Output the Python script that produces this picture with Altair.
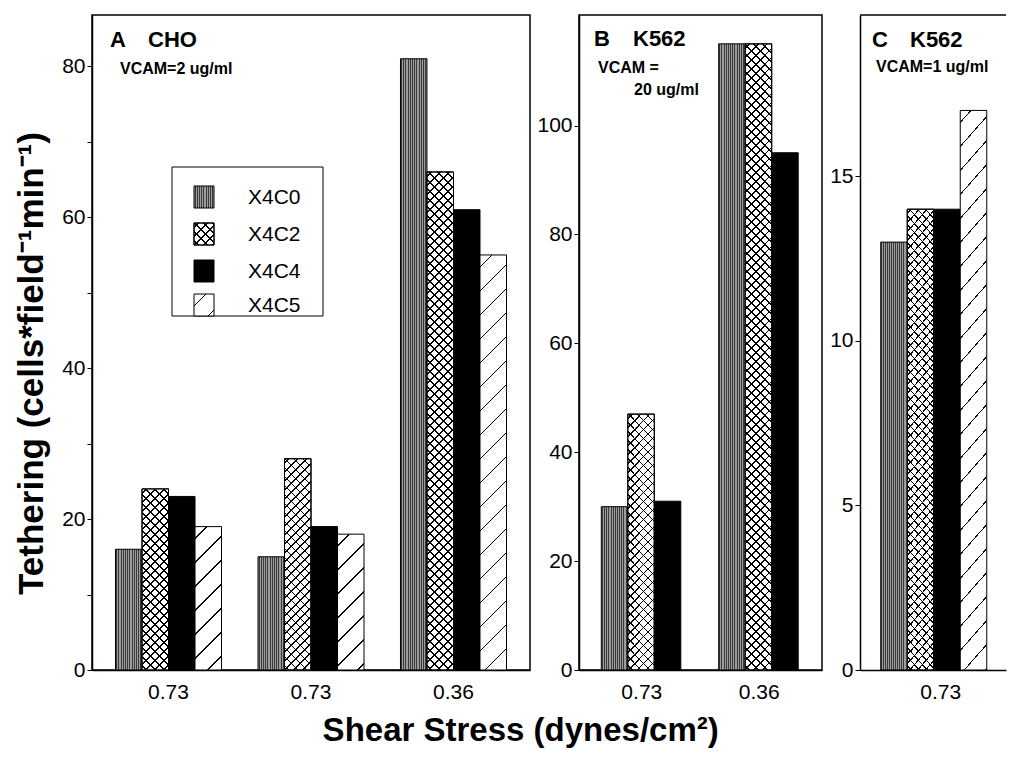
import math
import altair as alt
import pandas as pd

# ---------------- data ----------------
series = ["X4C0", "X4C2", "X4C4", "X4C5"]

a_labels = ["0.73", "0.73", "0.36"]
a_x4c0 = [16, 15, 81]
a_x4c2 = [24, 28, 66]
a_x4c4 = [23, 19, 61]
a_x4c5 = [19, 18, 55]

b_labels = ["0.73", "0.36"]
b_x4c0 = [30, 115]
b_x4c2 = [47, 115]
b_x4c4 = [31, 95]

c_labels = ["0.73"]
c_x4c0 = [13]
c_x4c2 = [14]
c_x4c4 = [14]
c_x4c5 = [17]

a_ticks = [0, 10, 20, 30, 40, 50, 60, 70, 80]
b_ticks = [0, 20, 40, 60, 80, 100]
c_ticks = [0, 5, 10, 15]

panel_letters = ["A", "B", "C"]
cell_lines = ["CHO", "K562", "K562"]
vcam_a = ["VCAM=2 ug/ml"]
vcam_b = ["VCAM =", "20 ug/ml"]
vcam_c = ["VCAM=1 ug/ml"]

y_title = "Tethering (cells*field\u207b\u00b9min\u207b\u00b9)"
x_title = "Shear Stress (dynes/cm\u00b2)"

FONT = "Liberation Sans"
WHITE = "#ffffff"
CLEAR = "rgba(255,255,255,0)"
TICK_FS = 21


# ---------------- hatch fills (gradients) ----------------
def make_stops(total, spacing, lw, line, bg, phase=0.5):
    pts = [(0.0, bg)]
    k = 0
    while True:
        c = (k + phase) * spacing
        a, b = c - lw / 2, c + lw / 2
        if a >= total:
            break
        a = max(a, 0.0)
        b = min(b, total)
        pts += [(a / total, bg), (a / total, line), (b / total, line), (b / total, bg)]
        k += 1
    pts.append((1.0, bg))
    return [alt.GradientStop(color=col, offset=round(o, 5)) for o, col in pts]


def vstripes(w):
    return alt.LinearGradient(gradient="linear", x1=0, y1=0, x2=1, y2=0,
                              stops=make_stops(w, 2.2, 1.0, "#3a3a3a", "#9c9c9c"))


def diag(w, h, spacing, lw, line, bg, up=True, phase=0.5):
    s = (w + h) / (w * w + h * h)
    stops = make_stops(w + h, spacing, lw * math.sqrt(2), line, bg, phase)
    if up:
        return alt.LinearGradient(gradient="linear", x1=0, y1=0, x2=s * w, y2=s * h, stops=stops)
    return alt.LinearGradient(gradient="linear", x1=0, y1=1, x2=s * w, y2=1 - s * h, stops=stops)


def fills_for(name, w, h):
    if name == "X4C0":
        return [vstripes(w)]
    if name == "X4C2":
        return [diag(w, h, 9.0, 1.15, "black", WHITE, True),
                diag(w, h, 9.0, 1.15, "black", CLEAR, False)]
    if name == "X4C4":
        return ["black"]
    return [diag(w, h, 24, 1.0, "black", WHITE, True)]


def one_row():
    return pd.DataFrame({"k": [0]})


def text_layer(txt, x, y, size, weight="bold", align="left"):
    return alt.Chart(pd.DataFrame({"t": [txt]})).mark_text(
        align=align, baseline="middle", fontSize=size, fontWeight=weight,
        font=FONT, color="black").encode(x=alt.value(x), y=alt.value(y), text="t:N")


def rect_layer(x, x2, y, y2, fill, sw=1):
    return alt.Chart(one_row()).mark_rect(fill=fill, stroke="black", strokeWidth=sw).encode(
        x=alt.value(x), x2=alt.value(x2), y=alt.value(y), y2=alt.value(y2))


def panel(labels, ser, cols, ymax, W, H, pi, po, yticks, ylab_expr, ytitle, align=0.5):
    n = len(labels)
    step = W / (n - pi + 2 * po)
    bw = step * (1 - pi) / len(ser)
    keys = [str(i) for i in range(n)]
    label_expr = "[" + ",".join("'%s'" % l for l in labels) + "][toNumber(datum.value)]"
    xenc = alt.X("g:N",
                 scale=alt.Scale(domain=keys, paddingInner=pi, paddingOuter=po, align=align),
                 axis=alt.Axis(title=None, labelAngle=0, ticks=False, labelPadding=11,
                               labelFontSize=TICK_FS, labelExpr=label_expr, domain=True,
                               domainColor="black", domainWidth=1.5, labelColor="black",
                               labelFont=FONT))
    yaxis_kw = dict(values=yticks, tickSize=5, tickColor="black", labelFontSize=TICK_FS,
                    labelColor="black", labelFont=FONT, domain=True, domainColor="black",
                    domainWidth=1.5, grid=False, labelPadding=2)
    if ylab_expr:
        yaxis_kw["labelExpr"] = ylab_expr
    if ytitle:
        yaxis_kw.update(title=ytitle, titleFontSize=35, titleFontWeight="bold",
                        titleFont=FONT, titleColor="black", titlePadding=12, titleY=348)
    else:
        yaxis_kw["title"] = None
    yenc = alt.Y("v:Q", scale=alt.Scale(domain=[0, ymax], nice=False, zero=True),
                 axis=alt.Axis(**yaxis_kw))
    xo = alt.XOffset("s:N", scale=alt.Scale(domain=ser, paddingInner=0, paddingOuter=0))
    layers = []
    for si, sname in enumerate(ser):
        for gi, v in enumerate(cols[si]):
            h = v / ymax * H
            df = pd.DataFrame({"g": [keys[gi]], "s": [sname], "v": [v]})
            for fill in fills_for(sname, bw, h):
                layers.append(alt.Chart(df).mark_bar(fill=fill, stroke="black", strokeWidth=1)
                              .encode(x=xenc, xOffset=xo, y=yenc))
    return layers


H = 655

# Panel A
A_W = 438
a_layers = panel(a_labels, series, [a_x4c0, a_x4c2, a_x4c4, a_x4c5], 86.8, A_W, H,
                 0.256, 0.165, a_ticks, "datum.value % 20 == 0 ? datum.label : ''", y_title)
a_layers += [text_layer(panel_letters[0], 18, 25, 22),
             text_layer(cell_lines[0], 56, 25, 22),
             text_layer(vcam_a[0], 28, 54, 16)]
# legend
a_layers.append(rect_layer(80, 231, 152, 301, WHITE, 1))
row_y = [182, 219, 256, 290]
for i, name in enumerate(series):
    y0 = row_y[i] - 11
    for f in fills_for(name, 20, 22):
        a_layers.append(rect_layer(102, 122, y0, y0 + 22, f, 1))
    a_layers.append(text_layer(name, 156, row_y[i] + 1, 21, weight="normal"))
chart_a = alt.layer(*a_layers).properties(width=A_W, height=H)

# Panel B
B_W = 243
b_series = series[:3]
b_layers = panel(b_labels, b_series, [b_x4c0, b_x4c2, b_x4c4], 120.3, B_W, H,
                 0.31, 0.19, b_ticks, None, None)
b_layers += [text_layer(panel_letters[1], 15, 24, 22),
             text_layer(cell_lines[1], 54, 24, 22),
             text_layer(vcam_b[0], 19, 53, 16),
             text_layer(vcam_b[1], 55, 75, 16)]
chart_b = alt.layer(*b_layers).properties(width=B_W, height=H)

# Panel C (right border cut off as in the source)
C_W = 146
c_layers = panel(c_labels, series, [c_x4c0, c_x4c2, c_x4c4, c_x4c5], 19.9, C_W, H,
                 0.0, 0.108, c_ticks, None, None, align=0.8)
c_layers += [alt.Chart(one_row()).mark_rule(color="black", strokeWidth=1.5).encode(
                 x=alt.value(0), x2=alt.value(C_W), y=alt.value(0)),
             text_layer(panel_letters[2], 12, 25, 22),
             text_layer(cell_lines[2], 50, 25, 22),
             text_layer(vcam_c[0], 16, 52, 16)]
chart_c = alt.layer(*c_layers).properties(
    width=C_W, height=H, view=alt.ViewBackground(stroke="transparent"))

chart = alt.hconcat(chart_a, chart_b, chart_c, spacing=5).properties(
    title=alt.TitleParams(text=x_title, orient="bottom", anchor="middle", fontSize=33,
                          fontWeight="bold", font=FONT, color="black", offset=12, dx=10),
    padding={"left": 5, "top": 5, "right": 0, "bottom": 0},
    background="white",
).configure_view(stroke="black", strokeWidth=1.5)

chart.save("out.html", embed_options={"renderer": "svg", "actions": False})
